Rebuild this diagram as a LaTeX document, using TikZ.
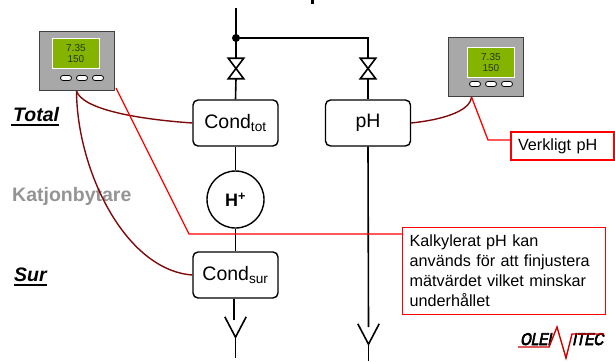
\documentclass[tikz,border=0pt]{standalone}
\usepackage{fontspec}
\usepackage{xcolor}
\setmainfont{Liberation Sans}
\newfontfamily\logofont[FakeBold=4,FakeSlant=.2,FakeStretch=.8]{Liberation Sans}
\definecolor{SignalRed}{HTML}{FF0000}
\definecolor{CableRed}{HTML}{7F0A0A}
\definecolor{MeterGray}{HTML}{A8A8A8}
\definecolor{ScreenGreen}{HTML}{84B300}
\definecolor{LabelGray}{HTML}{949494}
\tikzset{
  pipe/.style={line width=1.6pt, black},
  cable/.style={line width=1.4pt, CableRed},
  signal/.style={line width=1.3pt, SignalRed},
  cell/.style={draw, line width=1.4pt, rounded corners=5pt, fill=white, minimum width=85pt, minimum height=46pt, inner sep=0pt, font=\fontsize{19.5}{22}\selectfont},
  valvebox/.style={minimum width=15pt, minimum height=20pt, inner sep=0pt},
  drainbox/.style={minimum width=21pt, minimum height=20pt, inner sep=0pt},
  notebox/.style={draw=SignalRed, line width=1.3pt, fill=white, inner sep=0pt, font=\fontsize{16.2}{20}\selectfont},
  sidelabel/.style={anchor=base west, inner sep=0pt, font=\fontsize{19.5}{22}\selectfont\bfseries\itshape},
  underrule/.style={line width=1.6pt, black},
  logotext/.style={inner sep=0pt, anchor=base west, font=\fontsize{17}{17}\logofont}
}
\begin{document}
\begin{tikzpicture}[x=1pt, y=-1pt]
  \useasboundingbox (0,0) rectangle (615,361);

  % labels at the left
  \node[sidelabel] (total) at (13,121) {Total};
  \node[sidelabel] (sur) at (14,281) {Sur};
  \node[anchor=base west, inner sep=0pt, text=LabelGray, font=\fontsize{19.5}{22}\selectfont\bfseries] (katjon) at (12,201) {Katjonbytare};
  \draw[underrule] ([shift={(-2pt,-4pt)}]total.base west) -- ([yshift=-4pt]total.base east);
  \draw[underrule] ([yshift=-4pt]sur.base west) -- ([yshift=-4pt]sur.base east);

  % process line
  \coordinate (feedTop) at (236,8);
  \coordinate (junction) at (236,38);
  \coordinate (bend) at (368,38);
  \node[cell] (condTot) at (235.5,123) {Cond\textsubscript{tot}};
  \node[cell] (phCell) at (368,123) {pH};
  \node[draw, circle, line width=1.4pt, fill=white, minimum size=57pt, inner sep=0pt, font=\fontsize{18}{20}\selectfont\bfseries] (exchanger) at (235.5,199.5) {H\textsuperscript{+}};
  \node[cell] (condSur) at (235.5,275) {Cond\textsubscript{sur}};
  \node[valvebox] (valveTot) at (236,68.5) {};
  \node[valvebox] (valvePh) at (368,68.5) {};
  \node[drainbox] (drainSur) at (235.5,327) {};
  \node[drainbox] (drainPh) at (368.5,334) {};
  \coordinate (endSur) at (235.5,358);
  \coordinate (endPh) at (368.5,361);

  \draw[pipe] (feedTop) -- (valveTot.north);
  \draw[pipe] (junction) -- (bend) -- (valvePh.north);
  \draw[pipe] (valveTot.south) -- (condTot.north);
  \draw[pipe] (valvePh.south) -- (phCell.north);
  \draw[pipe] (condTot.south) -- (exchanger.north);
  \draw[pipe] (exchanger.south) -- (condSur.north);
  \draw[pipe] ([xshift=-1.5pt]condSur.south) -- ([xshift=-1.5pt,yshift=7pt]drainSur.center);
  \draw[pipe] (phCell.south) -- ([yshift=7pt]drainPh.center);
  \draw[pipe] (drainSur.south) -- (endSur);
  \draw[pipe] (drainPh.south) -- (endPh);
  \fill (junction) circle (4pt);
  \foreach \v in {valveTot, valvePh} {
    \draw[pipe, fill=white] (\v.north west) -- (\v.north east) -- (\v.south west) -- (\v.south east) -- cycle;
  }
  \foreach \d in {drainSur, drainPh} {
    \draw[pipe] (\d.north west) -- (\d.south) -- (\d.north east);
  }
  \fill (310.5,0) rectangle (314,4.5);

  % meters
  \foreach \m/\mx/\my/\sx/\sy in {meterTotal/39/31/13/7, meterPh/448/37/19/10} {
    \node[draw=black!75, line width=1pt, fill=MeterGray, minimum width=75pt, minimum height=59pt, inner sep=0pt, anchor=north west] (\m) at (\mx,\my) {};
    \node[draw=white, line width=.8pt, fill=ScreenGreen, minimum width=47pt, minimum height=30pt, inner sep=0pt, anchor=north west, align=center, text=black!70!ScreenGreen, font=\fontsize{10}{10.5}\selectfont] (\m Screen) at (\mx+\sx,\my+\sy) {7.35\\150};
    \foreach \b in {27,43,59} {
      \node[draw=black, line width=.8pt, fill=white, rounded corners=2.5pt, minimum width=11pt, minimum height=5pt, inner sep=0pt] (\m Key\b) at (\mx+\b,\my+47) {};
    }
  }

  % cables
  \draw[cable] (meterTotal.south) ++(-.5pt,0) .. controls +(6pt,-18pt) and (135,119) .. (condTot.west);
  \draw[cable] (meterTotal.south) ++(-.5pt,0) .. controls (77,170) and (125,270) .. (condSur.west);
  \draw[cable] (phCell.east) .. controls (440,120) and (470,112) .. ([xshift=-14.5pt]meterPh.south);

  % notes
  \node[notebox, minimum width=103pt, minimum height=28pt, text width=89pt, inner xsep=7pt, align=left] (noteReal) at (562.5,146) {Verkligt pH};
  \node[notebox, anchor=north west, minimum width=203pt, minimum height=87pt, text width=189pt, inner xsep=7pt, align=left] (noteCalc) at (402,227) {Kalkylerat pH kan\\används för att finjustera\\mätvärdet vilket minskar\\underhållet};
  \coordinate (kneeReal) at (488,140);
  \coordinate (kneeCalc) at (189,234);
  \draw[signal] ([xshift=-14.5pt]meterPh.south) -- (kneeReal) -- (kneeReal -| noteReal.west);
  \draw[signal] (meterTotal.south east) ++(1pt,3pt) -- (kneeCalc) -- (kneeCalc -| noteCalc.west);

  % logo
  \node[logotext] (logoLeft) at (520,345) {OLEI};
  \node[logotext] (logoRight) at (572,345) {ITEC};
  \draw[SignalRed!80!black, line width=1.4pt] ([shift={(-2pt,-2pt)}]logoLeft.base west) -- (549,347) -- (557,327) -- (566,358) -- (572,334) -- (604,334);
\end{tikzpicture}
\end{document}
